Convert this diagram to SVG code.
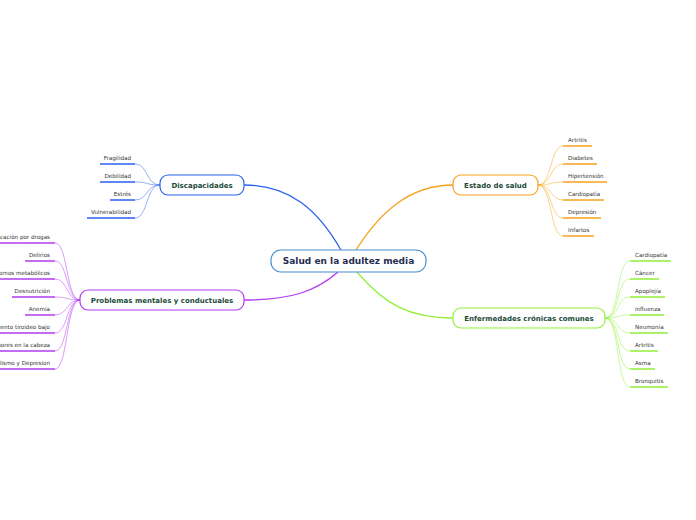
<svg xmlns="http://www.w3.org/2000/svg" width="696" height="520" viewBox="0 0 696 520">
<style>
.node{fill:#fff;stroke-width:1.2}
.nt{font-family:"DejaVu Sans",Verdana,sans-serif;font-weight:bold;font-size:7px;fill:#1b4a3a;text-anchor:middle}
.ct{font-family:"DejaVu Sans",Verdana,sans-serif;font-weight:bold;font-size:9px;fill:#1f2d50;text-anchor:middle}
.lt{font-family:"DejaVu Sans",Verdana,sans-serif;font-size:5.6px;fill:#333}
.r{text-anchor:end}
.main{fill:none;stroke-width:1.3}
.leaf{fill:none;stroke-width:0.9;stroke-opacity:0.55}
.ul{fill:none;stroke-width:1.6}
.blue{stroke:#2962f0}.orange{stroke:#f7a21d}.green{stroke:#92f03a}.purple{stroke:#b23cf2}
</style>
<rect width="696" height="520" fill="#fff"/>
<g id="connectors">
<path class="main blue" d="M341,250 C318,210 290,185 244,185"/>
<path class="main orange" d="M356,250 C380,212 410,185 453,185"/>
<path class="main green" d="M357,272 C385,305 410,318 453,318"/>
<path class="main purple" d="M338,272 C315,292 290,300 244,300"/>
<g class="leaf blue">
<path d="M160,185 C146,185 148,164 135,164"/>
<path d="M160,185 C146,185 148,182 135,182"/>
<path d="M160,185 C146,185 148,200 135,200"/>
<path d="M160,185 C146,185 148,218 135,218"/>
</g>
<g class="leaf orange">
<path d="M538,185 C552,185 550,146 563,146"/>
<path d="M538,185 C552,185 550,164 563,164"/>
<path d="M538,185 C552,185 550,182 563,182"/>
<path d="M538,185 C552,185 550,200 563,200"/>
<path d="M538,185 C552,185 550,218 563,218"/>
<path d="M538,185 C552,185 550,236 563,236"/>
</g>
<g class="leaf green">
<path d="M605,318 C620,318 616,261 630,261"/>
<path d="M605,318 C620,318 616,279 630,279"/>
<path d="M605,318 C620,318 616,297 630,297"/>
<path d="M605,318 C620,318 616,315 630,315"/>
<path d="M605,318 C620,318 616,333 630,333"/>
<path d="M605,318 C620,318 616,351 630,351"/>
<path d="M605,318 C620,318 616,369 630,369"/>
<path d="M605,318 C620,318 616,387 630,387"/>
</g>
<g class="leaf purple">
<path d="M80,300 C66,300 68,243 55,243"/>
<path d="M80,300 C66,300 68,261 55,261"/>
<path d="M80,300 C66,300 68,279 55,279"/>
<path d="M80,300 C66,300 68,297 55,297"/>
<path d="M80,300 C66,300 68,315 55,315"/>
<path d="M80,300 C66,300 68,333 55,333"/>
<path d="M80,300 C66,300 68,351 55,351"/>
<path d="M80,300 C66,300 68,369 55,369"/>
</g>
</g>
<g id="central">
<rect class="node" x="271" y="250" width="155" height="22" rx="10" stroke="#4a8fd0"/>
<text class="ct" x="348.5" y="264.2">Salud en la adultez media</text>
</g>
<g id="discapacidades">
<rect class="node" x="160" y="175" width="84" height="20" rx="8" stroke="#2962f0"/>
<text class="nt" x="202" y="187.5">Discapacidades</text>
</g>
<g id="estado">
<rect class="node" x="453" y="175" width="85" height="20" rx="8" stroke="#f7a21d"/>
<text class="nt" x="495.5" y="187.5">Estado de salud</text>
</g>
<g id="enfermedades">
<rect class="node" x="453" y="308" width="152" height="20" rx="8" stroke="#92f03a"/>
<text class="nt" x="529" y="320.5">Enfermedades crónicas comunes</text>
</g>
<g id="problemas">
<rect class="node" x="80" y="290" width="164" height="20" rx="8" stroke="#b23cf2"/>
<text class="nt" x="162" y="302.5">Problemas mentales y conductuales</text>
</g>
<g id="leaves-discapacidades">
<path class="ul blue" d="M100,164H135M100,182H135M110,200H135M87,218H135"/>
<text class="lt r" x="131" y="160">Fragilidad</text>
<text class="lt r" x="131" y="178">Debilidad</text>
<text class="lt r" x="131" y="196">Estrés</text>
<text class="lt r" x="131" y="214">Vulnerabilidad</text>
</g>
<g id="leaves-estado">
<path class="ul orange" d="M563,146H592M563,164H597M563,182H607M563,200H604M563,218H601M563,236H594"/>
<text class="lt" x="568" y="142">Artritis</text>
<text class="lt" x="568" y="160">Diabetes</text>
<text class="lt" x="568" y="178">Hipertensión</text>
<text class="lt" x="568" y="196">Cardiopatía</text>
<text class="lt" x="568" y="214">Depresión</text>
<text class="lt" x="568" y="232">Infartos</text>
</g>
<g id="leaves-enfermedades">
<path class="ul green" d="M630,261H671M630,279H659M630,297H665M630,315H664M630,333H668M630,351H658M630,369H655M630,387H668"/>
<text class="lt" x="635" y="257">Cardiopatía</text>
<text class="lt" x="635" y="275">Cáncer</text>
<text class="lt" x="635" y="293">Apoplejía</text>
<text class="lt" x="635" y="311">influenza</text>
<text class="lt" x="635" y="329">Neumonía</text>
<text class="lt" x="635" y="347">Artritis</text>
<text class="lt" x="635" y="365">Asma</text>
<text class="lt" x="635" y="383">Bronquitis</text>
</g>
<g id="leaves-problemas">
<path class="ul purple" d="M0,243H55M25,261H55M0,279H55M12,297H55M25,315H55M0,333H55M0,351H55M0,369H55"/>
<text class="lt r" x="50" y="239">Intoxicación por drogas</text>
<text class="lt r" x="50" y="257">Delirios</text>
<text class="lt r" x="50" y="275">Trastornos metabólicos</text>
<text class="lt r" x="50" y="293">Desnutrición</text>
<text class="lt r" x="50" y="311">Anemia</text>
<text class="lt r" x="50" y="329">Funcionamiento tiroideo bajo</text>
<text class="lt r" x="50" y="347">Tumores en la cabeza</text>
<text class="lt r" x="50" y="365">Alcoholismo y Depresion</text>
</g>
</svg>
